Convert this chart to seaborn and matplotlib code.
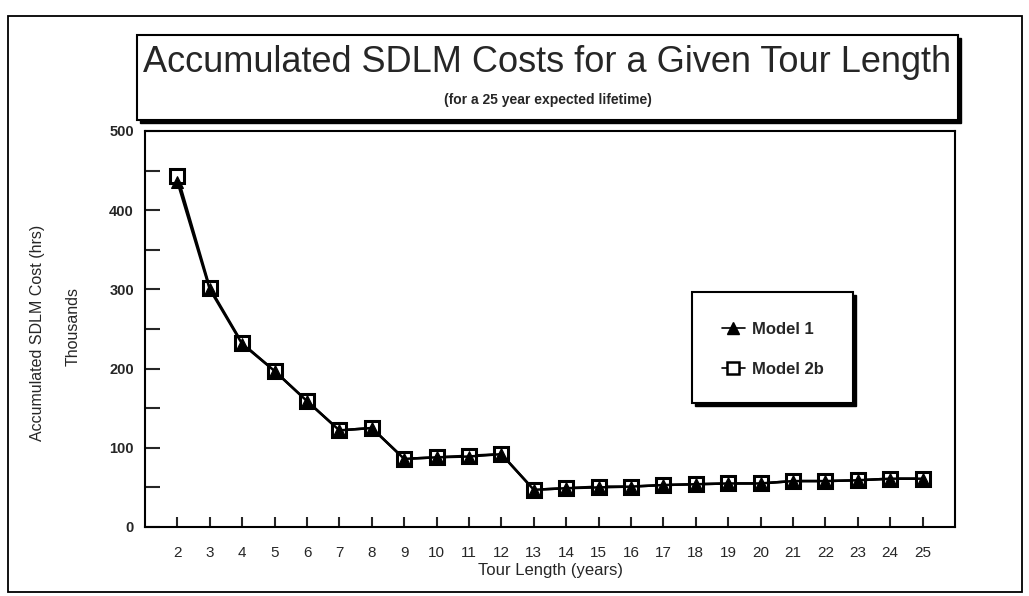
import matplotlib.pyplot as plt
import matplotlib.patches as patches
from matplotlib.lines import Line2D
from matplotlib.ticker import MultipleLocator
import pandas as pd
import seaborn as sns

# values (thousands of hours)
tour_length = [2, 3, 4, 5, 6, 7, 8, 9, 10, 11, 12, 13, 14, 15, 16, 17, 18, 19, 20, 21, 22, 23, 24, 25]
model_1 = [436, 300, 231, 197, 159, 122, 125, 86, 88, 89, 92, 47, 49, 50, 51, 53, 54, 55, 55, 58, 58, 59, 61, 61]
model_2b = [443, 302, 232, 197, 159, 122, 125, 86, 88, 90, 92, 47, 49, 51, 51, 53, 54, 55, 55, 58, 58, 59, 61, 61]
y_ticks = [0, 100, 200, 300, 400, 500]

df = pd.DataFrame({"tour": tour_length, "Model 1": model_1, "Model 2b": model_2b})

sns.set_style("ticks")
plt.rcParams["font.family"] = ["Liberation Sans", "DejaVu Sans"]

fig = plt.figure(figsize=(10.29, 5.96), dpi=100)
ax = fig.add_axes([145 / 1029, 1 - 527 / 596, 810 / 1029, 396 / 596])

# squares first, triangles drawn on top
sns.lineplot(data=df, x="tour", y="Model 2b", ax=ax, color="black", lw=1.8,
             marker="s", markersize=10, markerfacecolor="white",
             markeredgecolor="black", markeredgewidth=2.2, zorder=3)
sns.lineplot(data=df, x="tour", y="Model 1", ax=ax, color="black", lw=1.8,
             marker="^", markersize=8, markerfacecolor="black",
             markeredgecolor="black", zorder=4)

ax.set_xlim(1, 26)
ax.set_ylim(0, 500)
ax.set_xticks(tour_length)
ax.set_yticks(y_ticks)
ax.yaxis.set_minor_locator(MultipleLocator(50))
ax.tick_params(axis="y", which="both", direction="in", length=11, width=1.5,
               labelsize=10.5, pad=8)
ax.tick_params(axis="x", direction="in", length=7, width=1.5, labelsize=11, pad=14)
for lab in ax.get_yticklabels():
    lab.set_fontweight("bold")
for sp in ax.spines.values():
    sp.set_linewidth(1.5)
    sp.set_color("black")

ax.set_xlabel("Tour Length (years)", fontsize=12, labelpad=2)
ax.set_ylabel("")
fig.text(38 / 1029, 1 - 333 / 596, "Accumulated SDLM Cost (hrs)", rotation=90,
         ha="center", va="center", fontsize=11.5)
fig.text(73 / 1029, 1 - 327 / 596, "Thousands", rotation=90,
         ha="center", va="center", fontsize=11.5)

# outer frame
fig.patches.append(patches.Rectangle((8 / 1029, 4 / 596), 1014 / 1029, 576 / 596,
                                     transform=fig.transFigure, fill=False,
                                     edgecolor="black", lw=1.3))

# title box with a dark drop shadow
tb = (137 / 1029, 1 - 120 / 596, 821 / 1029, 85 / 596)
fig.patches.append(patches.Rectangle((tb[0] + 3 / 1029, tb[1] - 3 / 596), tb[2], tb[3],
                                     transform=fig.transFigure, facecolor="black",
                                     edgecolor="black", zorder=1))
fig.patches.append(patches.Rectangle(tb[:2], tb[2], tb[3], transform=fig.transFigure,
                                     facecolor="white", edgecolor="black", lw=1.5, zorder=2))
fig.text(0.5 * (137 + 958) / 1029, 1 - 62 / 596, "Accumulated SDLM Costs for a Given Tour Length",
         ha="center", va="center", fontsize=26, zorder=3)
fig.text(0.5 * (137 + 958) / 1029, 1 - 100 / 596, "(for a 25 year expected lifetime)",
         ha="center", va="center", fontsize=10, fontweight="bold", zorder=3)

# legend box with shadow
lb = (692 / 1029, 1 - 403 / 596, 161 / 1029, 111 / 596)
ax.add_patch(patches.Rectangle((lb[0] + 3 / 1029, lb[1] - 3 / 596), lb[2], lb[3],
                               transform=fig.transFigure, facecolor="black",
                               edgecolor="black", zorder=5, clip_on=False))
ax.add_patch(patches.Rectangle(lb[:2], lb[2], lb[3], transform=fig.transFigure,
                               facecolor="white", edgecolor="black", lw=1.5,
                               zorder=6, clip_on=False))
handles = [
    Line2D([], [], color="black", lw=1.2, marker="^", markersize=8,
           markerfacecolor="black"),
    Line2D([], [], color="black", lw=1.2, marker="s", markersize=9,
           markerfacecolor="white", markeredgewidth=1.8),
]
leg = ax.legend(handles, ["Model 1", "Model 2b"], loc="center",
                bbox_to_anchor=(lb[0] + lb[2] / 2, lb[1] + lb[3] / 2 - 2 / 596),
                bbox_transform=fig.transFigure, frameon=False, handlelength=1.4,
                handletextpad=0.4, labelspacing=1.5,
                prop={"weight": "bold", "size": 12})
leg.set_zorder(7)

fig.savefig("out.png", dpi=100)
